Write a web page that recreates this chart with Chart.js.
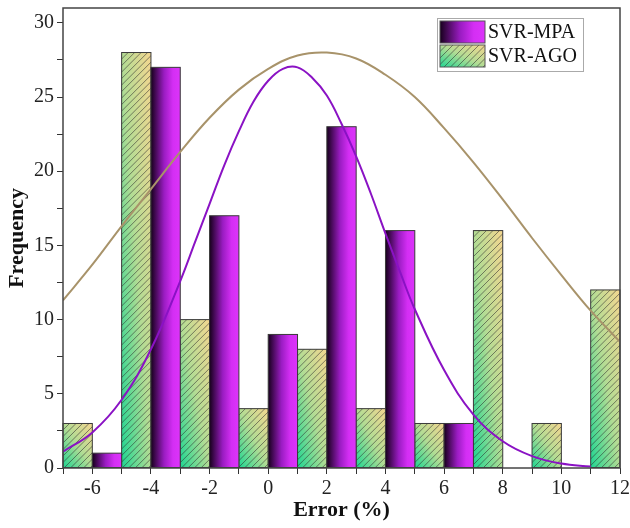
<!DOCTYPE html>
<html>
<head>
<meta charset="utf-8">
<script src="https://cdn.jsdelivr.net/npm/chart.js@4.4.1/dist/chart.umd.min.js"></script>
<style>
  body { margin: 0; background: #fff; }
  #wrap { width: 630px; height: 528px; }
</style>
</head>
<body>
<div id="wrap"><canvas id="histChart" width="630" height="528"></canvas></div>
<script>
// histogram bins (bar centres, % error) and counts
const agoCenters = [-6.5, -4.5, -2.5, -0.5, 1.5, 3.5, 5.5, 7.5, 9.5, 11.5];
const agoCounts = [3, 28, 10, 4, 8, 4, 3, 16, 3, 12];
const mpaCenters = [-5.5, -3.5, -1.5, 0.5, 2.5, 4.5, 6.5, 8.5, 10.5];
const mpaCounts = [1, 27, 17, 9, 23, 16, 3, 0, 0];

// fitted normal curves
const mpaCurveX = [-7, -6, -5, -4, -3, -2.5, -2, -1.5, -1, -0.5, 0, 0.5, 1, 1.5, 2, 2.5, 3, 3.5, 4, 4.5, 5, 6, 7, 8, 9, 10, 11];
const mpaCurveY = [1.1, 2.4, 4.6, 8.0, 12.6, 15.2, 17.8, 20.4, 22.7, 24.7, 26.1, 26.9, 27.0, 26.3, 25.1, 23.2, 21.0, 18.5, 15.8, 13.2, 10.7, 6.6, 3.6, 1.8, 0.8, 0.3, 0.1];
const agoCurveX = [-7, -6, -5, -4, -3, -2, -1, 0, 1, 2, 3, 4, 5, 6, 7, 8, 9, 10, 11, 12];
const agoCurveY = [11.3, 13.7, 16.3, 18.8, 21.3, 23.6, 25.5, 26.9, 27.8, 28.0, 27.6, 26.5, 25.0, 22.9, 20.6, 18.1, 15.5, 13.0, 10.6, 8.5];

const SERIF = '"Liberation Serif", "Times New Roman", serif';

const toPoints = (xs, ys) => xs.map((x, i) => ({ x: x, y: ys[i] }));

// purple bars: dark -> magenta, left to right
function paintMpa(ctx, l, t, r, b) {
  const g = ctx.createLinearGradient(l, 0, r, 0);
  g.addColorStop(0, "#17001c");
  g.addColorStop(0.45, "#9a1cc2");
  g.addColorStop(0.75, "#d42ef4");
  g.addColorStop(1, "#dc34fa");
  ctx.fillStyle = g;
  ctx.fillRect(l, t, r - l, b - t);
}

// green/tan bars: diagonal gradient in the bar's own box + hatch
function paintAgo(ctx, l, t, r, b) {
  ctx.save();
  ctx.translate(l, b);
  ctx.scale(r - l, t - b);
  const g = ctx.createLinearGradient(0, 0, 1, 1);
  g.addColorStop(0, "#1fd692");
  g.addColorStop(0.5, "#b2dc94");
  g.addColorStop(1, "#f4d690");
  ctx.fillStyle = g;
  ctx.fillRect(0, 0, 1, 1);
  ctx.restore();

  ctx.save();
  ctx.beginPath();
  ctx.rect(l, t, r - l, b - t);
  ctx.clip();
  ctx.strokeStyle = "rgba(45,45,45,0.7)";
  ctx.lineWidth = 0.8;
  ctx.beginPath();
  const h = b - t;
  for (let s = l - h; s < r + 6; s += 6.5) {
    ctx.moveTo(s, b);
    ctx.lineTo(s + h, t);
  }
  ctx.stroke();
  ctx.restore();
}

const painters = { "SVR-MPA": paintMpa, "SVR-AGO": paintAgo };

const barPaint = {
  id: "barPaint",
  afterDatasetDraw(chart, args) {
    const ds = chart.data.datasets[args.index];
    if (ds.type !== "bar") return;
    const ctx = chart.ctx;
    const paint = painters[ds.label];
    args.meta.data.forEach((el) => {
      const p = el.getProps(["x", "y", "base", "width"], true);
      if (Math.abs(p.base - p.y) < 0.5) return;
      const l = p.x - p.width / 2;
      const r = p.x + p.width / 2;
      const t = Math.min(p.y, p.base);
      const b = Math.max(p.y, p.base);
      paint(ctx, l, t, r, b);
      ctx.save();
      ctx.strokeStyle = "#3a3a3a";
      ctx.lineWidth = 1;
      ctx.strokeRect(l, t, r - l, b - t);
      ctx.restore();
    });
  },
  afterDraw(chart) {
    const ctx = chart.ctx;
    const a = chart.chartArea;
    ctx.save();
    // frame
    ctx.strokeStyle = "#444";
    ctx.lineWidth = 1.5;
    ctx.strokeRect(a.left, a.top, a.right - a.left, a.bottom - a.top);

    // legend box, top right
    const lx = a.right - 183, ly = a.top + 10;
    ctx.fillStyle = "#fff";
    ctx.fillRect(lx, ly, 146, 53);
    ctx.strokeStyle = "#aaa";
    ctx.lineWidth = 1;
    ctx.strokeRect(lx + 0.5, ly + 0.5, 146, 53);
    const items = ["SVR-MPA", "SVR-AGO"];
    ctx.font = "20px " + SERIF;
    ctx.textBaseline = "middle";
    items.forEach((name, i) => {
      const sy = ly + 3 + i * 24;
      painters[name](ctx, lx + 3, sy, lx + 48, sy + 22);
      ctx.strokeStyle = "#555";
      ctx.lineWidth = 1;
      ctx.strokeRect(lx + 3, sy, 45, 22);
      ctx.fillStyle = "#111";
      ctx.fillText(name, lx + 51, sy + 12);
    });
    ctx.restore();
  },
};

new Chart(document.getElementById("histChart"), {
  type: "bar",
  data: {
    datasets: [
      {
        type: "line",
        label: "MPA fit",
        data: toPoints(mpaCurveX, mpaCurveY),
        borderColor: "#8a12c4",
        borderWidth: 2,
        pointRadius: 0,
        tension: 0.4,
        order: 0,
      },
      {
        type: "line",
        label: "AGO fit",
        data: toPoints(agoCurveX, agoCurveY),
        borderColor: "#a8936a",
        borderWidth: 2,
        pointRadius: 0,
        tension: 0.4,
        order: 0,
      },
      {
        type: "bar",
        label: "SVR-MPA",
        data: toPoints(mpaCenters, mpaCounts),
        backgroundColor: "rgba(0,0,0,0)",
        borderWidth: 0,
        barPercentage: 1,
        categoryPercentage: 1,
        grouped: false,
        order: 1,
      },
      {
        type: "bar",
        label: "SVR-AGO",
        data: toPoints(agoCenters, agoCounts),
        backgroundColor: "rgba(0,0,0,0)",
        borderWidth: 0,
        barPercentage: 1,
        categoryPercentage: 1,
        grouped: false,
        order: 1,
      },
    ],
  },
  options: {
    responsive: false,
    animation: false,
    layout: { padding: { left: 0, top: 8, right: 10, bottom: 0 } },
    plugins: { legend: { display: false }, tooltip: { enabled: false } },
    scales: {
      x: {
        type: "linear",
        min: -7,
        max: 12,
        offset: false,
        border: { display: false },
        grid: { offset: false, drawOnChartArea: false, tickLength: 6, color: "#333" },
        ticks: {
          stepSize: 1,
          padding: 3,
          maxRotation: 0,
          autoSkip: false,
          color: "#222",
          font: { family: SERIF, size: 20 },
          callback: (v) => (v % 2 === 0 ? String(v) : ""),
        },
        title: {
          display: true,
          text: "Error (%)",
          color: "#111",
          font: { family: SERIF, size: 22, weight: "bold" },
        },
        afterFit: (s) => {
          s.height = 60;
          s.paddingLeft = 0;
          s.paddingRight = 0;
        },
      },
      y: {
        min: 0,
        max: 31,
        border: { display: false },
        grid: { drawOnChartArea: false, tickLength: 6, color: "#333" },
        ticks: {
          stepSize: 2.5,
          includeBounds: false,
          padding: 3,
          color: "#222",
          font: { family: SERIF, size: 20 },
          callback: (v) => (v % 5 === 0 ? String(v) : ""),
        },
        title: {
          display: true,
          text: "Frequency",
          color: "#111",
          font: { family: SERIF, size: 22, weight: "bold" },
        },
        afterFit: (s) => {
          s.width = 63;
          s.paddingTop = 0;
          s.paddingBottom = 0;
        },
      },
    },
  },
  plugins: [barPaint],
});
</script>
</body>
</html>
